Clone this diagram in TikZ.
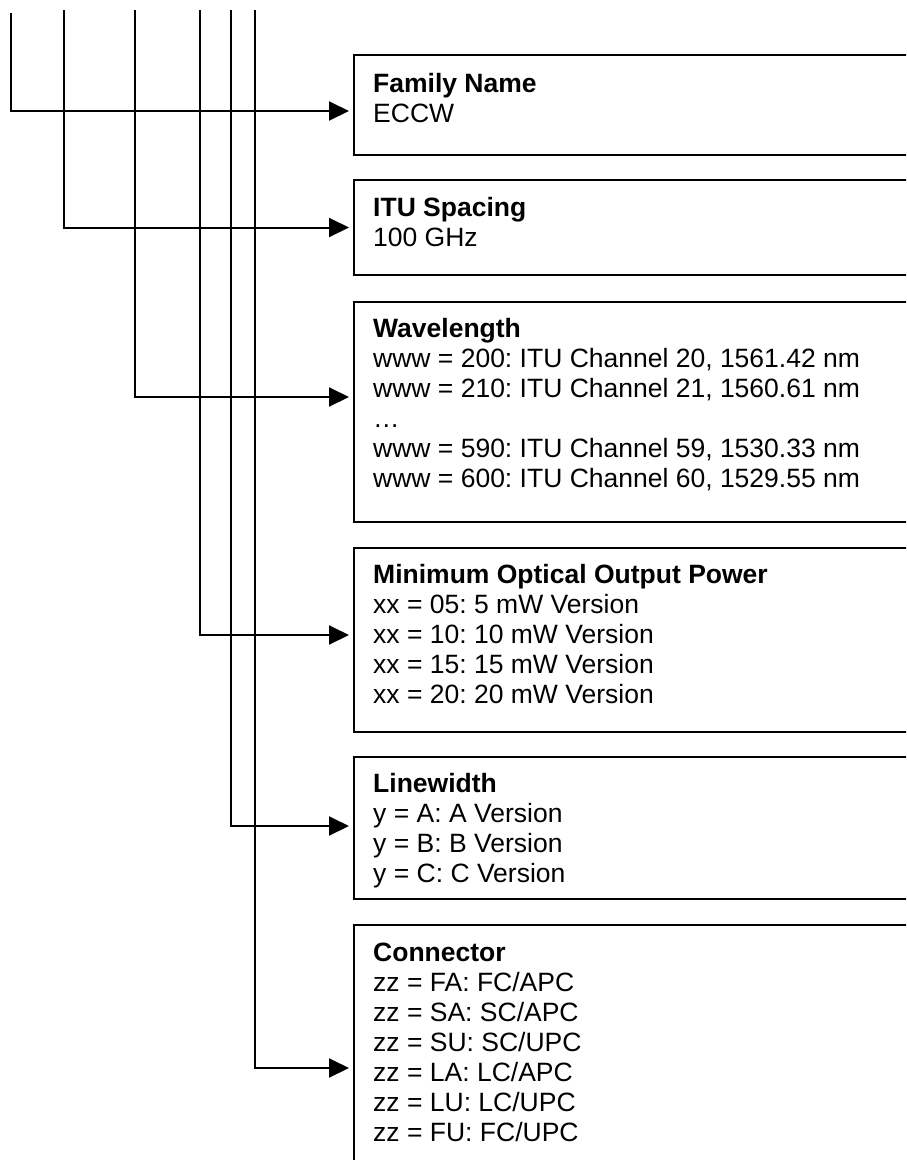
\documentclass[tikz,border=0pt]{standalone}
\usepackage{fontspec}
\setmainfont{Liberation Sans}
\usetikzlibrary{arrows.meta}
\frenchspacing

\begin{document}
\begin{tikzpicture}[
  x=1pt,y=-1pt,
  spec/.style={draw,line width=2pt,rectangle,anchor=north west,
    minimum width=570pt,inner sep=0pt},
  spectext/.style={anchor=north west,align=left,inner sep=0pt,
    font=\fontsize{26.5}{30}\selectfont},
  feed/.style={-{Triangle[length=20pt,width=19pt]},line width=2pt,shorten >=4pt}
]
\useasboundingbox (0,0) rectangle (906,1160);
\clip (0,0) rectangle (906,1160);

% code field boxes
\node[spec,minimum height=100pt] (family) at (353,54) {};
\node[spec,minimum height=95pt] (itu) at (353,179) {};
\node[spec,minimum height=220pt] (wave) at (353,301) {};
\node[spec,minimum height=184pt] (power) at (353,547) {};
\node[spec,minimum height=142pt] (linew) at (353,756) {};
\node[spec,minimum height=286pt] (conn) at (353,924) {};

\node[spectext] (familytext) at ([shift={(20pt,-19pt)}]family.north west)
  {\textbf{Family Name}\\ECCW};
\node[spectext] (itutext) at ([shift={(20pt,-18pt)}]itu.north west)
  {\textbf{ITU Spacing}\\100 GHz};
\node[spectext] (wavetext) at ([shift={(20pt,-17pt)}]wave.north west)
  {\textbf{Wavelength}\\
   www = 200: ITU Channel 20, 1561.42 nm\\
   www = 210: ITU Channel 21, 1560.61 nm\\
   …\\
   www = 590: ITU Channel 59, 1530.33 nm\\
   www = 600: ITU Channel 60, 1529.55 nm};
\node[spectext] (powertext) at ([shift={(20pt,-17pt)}]power.north west)
  {\textbf{Minimum Optical Output Power}\\
   xx = 05: 5 mW Version\\
   xx = 10: 10 mW Version\\
   xx = 15: 15 mW Version\\
   xx = 20: 20 mW Version};
\node[spectext] (linewtext) at ([shift={(20pt,-17pt)}]linew.north west)
  {\textbf{Linewidth}\\
   y = A: A Version\\
   y = B: B Version\\
   y = C: C Version};
\node[spectext] (conntext) at ([shift={(20pt,-19pt)}]conn.north west)
  {\textbf{Connector}\\
   zz = FA: FC/APC\\
   zz = SA: SC/APC\\
   zz = SU: SC/UPC\\
   zz = LA: LC/APC\\
   zz = LU: LC/UPC\\
   zz = FU: FC/UPC};

% feed lines from the part number
\coordinate (familytop) at (11,13);
\coordinate (itutop) at (64,10);
\coordinate (wavetop) at (135,10);
\coordinate (powertop) at (200,10);
\coordinate (linewtop) at (231,10);
\coordinate (conntop) at (255,10);

\draw[feed] (familytop) |- ([yshift=-6pt]family.west);
\draw[feed] (itutop) |- (itu.west);
\draw[feed] (wavetop) |- ([yshift=15pt]wave.west);
\draw[feed] (powertop) |- ([yshift=5pt]power.west);
\draw[feed] (linewtop) |- ([yshift=2pt]linew.west);
\draw[feed] (conntop) |- (conn.west);
\end{tikzpicture}
\end{document}
